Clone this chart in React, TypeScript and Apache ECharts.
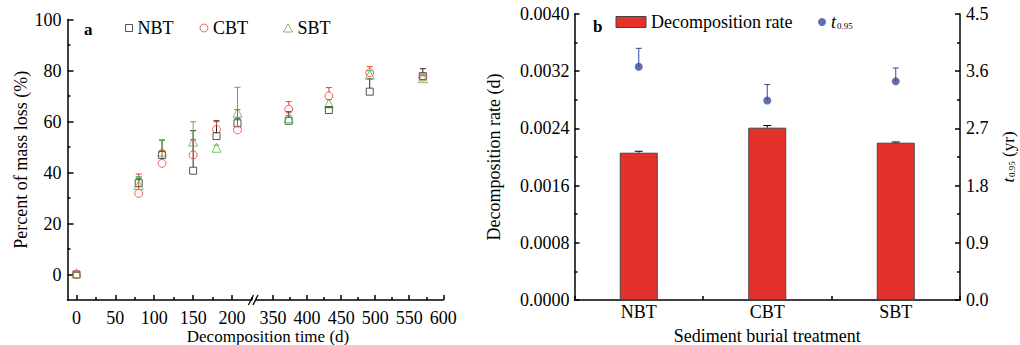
import React, { useEffect, useRef } from 'react';
import * as echarts from 'echarts';

const FONT = "'Liberation Serif', 'Times New Roman', serif";

// ---------- panel a data ----------
const daysEarly = [0, 80, 110, 150, 180, 207];
const daysLate = [373, 432, 492, 570];
const nbtMean = [0, 35.8, 46.9, 40.7, 54.3, 59.3, 60.3, 64.5, 71.7, 77.8];
const nbtErr = [0.8, 2.0, 5.8, 15.7, 6.0, 2.0, 3.5, 1.0, 5.0, 2.9];
const cbtMean = [0, 31.8, 43.6, 46.9, 56.9, 56.7, 64.8, 70.0, 79.1, 77.4];
const cbtErr = [0.8, 7.6, 5.0, 6.0, 3.0, 8.0, 3.0, 3.3, 2.4, 0.8];
const sbtMean = [0.5, 35.1, 48.2, 52.1, 49.7, 63.5, 61.3, 67.1, 78.4, 77.0];
const sbtErr = [0.5, 3.3, 4.5, 7.8, 1.0, 9.9, 1.0, 1.5, 1.5, 1.0];
const earlyLabels = [0, 50, 100, 150, 200];
const earlyMinor = [25, 75, 125, 175, 225];
const lateLabels = [350, 400, 450, 500, 550, 600];
const lateMinor = [375, 425, 475, 525, 575];
const massLabels = [0, 20, 40, 60, 80, 100];
const massMinor = [10, 30, 50, 70, 90];

// ---------- panel b data ----------
const treatments = ['NBT', 'CBT', 'SBT'];
const decompRate = [0.00206, 0.00241, 0.0022];
const decompRateErr = [0.00002, 0.00003, 0.00001];
const t95 = [3.67, 3.14, 3.44];
const t95Err = [0.29, 0.25, 0.21];

const C_NBT = '#2a2a2a';
const C_CBT = '#ee3a3a';
const C_SBT = '#5db446';
const C_BAR = '#e5312c';
const C_DOT = '#3a4a9a';

const axisLineStyle = { color: '#000', width: 1.5 };
const labelStyle = { fontFamily: FONT, fontSize: 18, color: '#000' };

function errRender(color: string, capW: number, startOffset: number) {
  return (params: any, api: any) => {
    const x = api.value(0);
    const y = api.value(1);
    const e = api.value(2);
    const p0 = api.coord([x, y]);
    const p1 = api.coord([x, y + e]);
    const y0 = Math.max(p0[1] - startOffset, p1[1]);
    return {
      type: 'group',
      children: [
        { type: 'line', shape: { x1: p0[0], y1: y0, x2: p1[0], y2: p1[1] }, style: { stroke: color, lineWidth: 1 } },
        { type: 'line', shape: { x1: p1[0] - capW / 2, y1: p1[1], x2: p1[0] + capW / 2, y2: p1[1] }, style: { stroke: color, lineWidth: 1 } },
      ],
    };
  };
}

function seriesFor(name: string, mean: number[], err: number[], color: string, symbol: string, size: number) {
  const n = daysEarly.length;
  const early = daysEarly.map((d, i) => [d, mean[i], err[i]]);
  const late = daysLate.map((d, i) => [d, mean[i + n], err[i + n]]);
  const out: any[] = [];
  [[early, 0, 0], [late, 2, 2]].forEach(([data, xi, yi]: any) => {
    out.push({
      type: 'custom', name: name + ' error', xAxisIndex: xi, yAxisIndex: yi,
      renderItem: errRender(color, 6, size / 2), data, encode: { x: 0, y: 1 }, z: 2, silent: true,
    });
    out.push({
      type: 'scatter', name, xAxisIndex: xi, yAxisIndex: yi, data: data.map((p: number[]) => [p[0], p[1]]),
      symbol, symbolSize: size,
      itemStyle: { color: 'rgba(0,0,0,0)', borderColor: color, borderWidth: 1 }, z: 3,
    });
  });
  return out;
}

const option: any = {
  animation: false,
  backgroundColor: '#fff',
  textStyle: { fontFamily: FONT },
  grid: [
    { left: 67.5, top: 19.5, width: 184, height: 280.5, outerBoundsMode: 'none', containLabel: false },
    { left: 256, top: 19.5, width: 187.3, height: 280.5, outerBoundsMode: 'none', containLabel: false },
    { left: 574.5, top: 14, width: 385.5, height: 286, outerBoundsMode: 'none', containLabel: false },
  ],
  legend: [
    { left: 125, top: 19, padding: 0, itemWidth: 7, itemHeight: 7, textStyle: labelStyle,
      data: [{ name: 'NBT', icon: 'rect', itemStyle: { color: 'rgba(0,0,0,0)', borderColor: C_NBT, borderWidth: 1 } }] },
    { left: 199.5, top: 19, padding: 0, itemWidth: 8, itemHeight: 8, textStyle: labelStyle,
      data: [{ name: 'CBT', icon: 'circle', itemStyle: { color: 'rgba(0,0,0,0)', borderColor: C_CBT, borderWidth: 1 } }] },
    { left: 283, top: 19, padding: 0, itemWidth: 9, itemHeight: 8, textStyle: labelStyle,
      data: [{ name: 'SBT', icon: 'triangle', itemStyle: { color: 'rgba(0,0,0,0)', borderColor: C_SBT, borderWidth: 1 } }] },
    { left: 615.5, top: 13, padding: 0, itemWidth: 30, itemHeight: 11, textStyle: labelStyle,
      data: [{ name: 'Decomposition rate', icon: 'rect', itemStyle: { color: C_BAR, borderColor: '#444', borderWidth: 1 } }] },
    { left: 818, top: 13, padding: 0, itemWidth: 8, itemHeight: 8,
      formatter: () => '{t|t}{s|0.95}',
      textStyle: { ...labelStyle, rich: { t: { fontFamily: FONT, fontSize: 18, fontStyle: 'italic', color: '#000' }, s: { fontFamily: FONT, fontSize: 9, color: '#000', padding: [8, 0, 0, 1] } } },
      data: [{ name: 't0.95', icon: 'circle', itemStyle: { color: C_DOT } }] },
  ],
  xAxis: [
    { gridIndex: 0, type: 'value', min: -11.5, max: 225, position: 'bottom',
      axisLine: { show: true, onZero: false, lineStyle: axisLineStyle },
      axisTick: { show: true, inside: true, length: 5, lineStyle: axisLineStyle, customValues: earlyLabels },
      axisLabel: { ...labelStyle, margin: 9, customValues: earlyLabels }, splitLine: { show: false } },
    { gridIndex: 0, type: 'value', min: -11.5, max: 225, position: 'bottom',
      axisLine: { show: false, onZero: false },
      axisTick: { show: true, inside: true, length: 3, lineStyle: axisLineStyle, customValues: earlyMinor },
      axisLabel: { show: false }, splitLine: { show: false } },
    { gridIndex: 1, type: 'value', min: 325, max: 600, position: 'bottom',
      axisLine: { show: true, onZero: false, lineStyle: axisLineStyle },
      axisTick: { show: true, inside: true, length: 5, lineStyle: axisLineStyle, customValues: lateLabels },
      axisLabel: { ...labelStyle, margin: 9, customValues: lateLabels }, splitLine: { show: false } },
    { gridIndex: 1, type: 'value', min: 325, max: 600, position: 'bottom',
      axisLine: { show: false, onZero: false },
      axisTick: { show: true, inside: true, length: 3, lineStyle: axisLineStyle, customValues: lateMinor },
      axisLabel: { show: false }, splitLine: { show: false } },
    { gridIndex: 2, type: 'category', data: treatments, position: 'bottom',
      axisLine: { show: true, onZero: false, lineStyle: axisLineStyle },
      axisTick: { show: true, inside: true, length: 4, lineStyle: axisLineStyle },
      axisLabel: { ...labelStyle, margin: 3 },
      name: 'Sediment burial treatment', nameLocation: 'middle', nameGap: 27,
      nameTextStyle: { ...labelStyle } },
  ],
  yAxis: [
    { gridIndex: 0, type: 'value', min: -10, max: 100, position: 'left',
      axisLine: { show: true, onZero: false, lineStyle: axisLineStyle },
      axisTick: { show: true, inside: true, length: 6, lineStyle: axisLineStyle, customValues: massLabels },
      axisLabel: { ...labelStyle, margin: 6, customValues: massLabels }, splitLine: { show: false },
      name: 'Percent of mass loss (%)', nameLocation: 'middle', nameGap: 38, nameRotate: 90,
      nameTextStyle: { ...labelStyle } },
    { gridIndex: 0, type: 'value', min: -10, max: 100, position: 'left',
      axisLine: { show: false, onZero: false },
      axisTick: { show: true, inside: true, length: 3, lineStyle: axisLineStyle, customValues: massMinor },
      axisLabel: { show: false }, splitLine: { show: false } },
    { gridIndex: 1, type: 'value', min: -10, max: 100, show: false },
    { gridIndex: 2, type: 'value', min: 0, max: 0.004, interval: 0.0008, position: 'left',
      axisLine: { show: true, onZero: false, lineStyle: axisLineStyle },
      axisTick: { show: true, inside: true, length: 5, lineStyle: axisLineStyle },
      minorTick: { show: true, splitNumber: 2, length: 3, lineStyle: axisLineStyle },
      axisLabel: { ...labelStyle, margin: 5, formatter: (v: number) => v.toFixed(4) },
      splitLine: { show: false }, minorSplitLine: { show: false },
      name: 'Decomposition rate (d)', nameLocation: 'middle', nameGap: 72, nameRotate: 90,
      nameTextStyle: { ...labelStyle } },
    { gridIndex: 2, type: 'value', min: 0, max: 4.5, interval: 0.9, position: 'right',
      axisLine: { show: true, onZero: false, lineStyle: axisLineStyle },
      axisTick: { show: true, inside: true, length: 5, lineStyle: axisLineStyle },
      minorTick: { show: true, splitNumber: 2, length: 3, lineStyle: axisLineStyle },
      axisLabel: { ...labelStyle, margin: 6, formatter: (v: number) => v.toFixed(1) },
      splitLine: { show: false }, minorSplitLine: { show: false },
      name: '{t|t}{s|0.95}{n| (yr)}', nameLocation: 'middle', nameGap: 40, nameRotate: 90,
      nameTextStyle: { ...labelStyle, fontSize: 17, rich: {
        t: { fontFamily: FONT, fontSize: 17, fontStyle: 'italic', color: '#000' },
        s: { fontFamily: FONT, fontSize: 9, color: '#000', padding: [7, 0, 0, 1] },
        n: { fontFamily: FONT, fontSize: 17, color: '#000' } } } },
  ],
  series: [
    ...seriesFor('NBT', nbtMean, nbtErr, C_NBT, 'rect', 7),
    ...seriesFor('CBT', cbtMean, cbtErr, C_CBT, 'circle', 8),
    ...seriesFor('SBT', sbtMean, sbtErr, C_SBT, 'triangle', 9),
    { type: 'bar', name: 'Decomposition rate', xAxisIndex: 4, yAxisIndex: 3, data: decompRate, barWidth: 38,
      itemStyle: { color: C_BAR, borderColor: '#444', borderWidth: 1 }, z: 2 },
    { type: 'custom', name: 'rate error', xAxisIndex: 4, yAxisIndex: 3,
      data: decompRate.map((v, i) => [i, v, decompRateErr[i]]), encode: { x: 0, y: 1 },
      renderItem: errRender('#000', 8, 0), z: 3, silent: true },
    { type: 'custom', name: 't error', xAxisIndex: 4, yAxisIndex: 4,
      data: t95.map((v, i) => [i, v, t95Err[i]]), encode: { x: 0, y: 1 },
      renderItem: errRender(C_DOT, 6, 0), z: 3, silent: true },
    { type: 'scatter', name: 't0.95', xAxisIndex: 4, yAxisIndex: 4, data: t95, symbol: 'circle', symbolSize: 8,
      itemStyle: { color: C_DOT }, z: 4 },
  ],
  graphic: [
    { type: 'text', left: 84, top: 21, style: { text: 'a', font: `bold 17px ${FONT}`, fill: '#000' } },
    { type: 'text', left: 593, top: 18, style: { text: 'b', font: `bold 17px ${FONT}`, fill: '#000' } },
    { type: 'text', x: 268, y: 336.5, style: { text: 'Decomposition time (d)', font: `17px ${FONT}`, fill: '#000', textAlign: 'center', textVerticalAlign: 'middle' } },
    { type: 'line', shape: { x1: 248.5, y1: 305, x2: 253.5, y2: 295 }, style: { stroke: '#000', lineWidth: 1.3 } },
    { type: 'line', shape: { x1: 253, y1: 305, x2: 258, y2: 295 }, style: { stroke: '#000', lineWidth: 1.3 } },
  ],
};

export default function App() {
  const ref = useRef<HTMLDivElement>(null);
  useEffect(() => {
    const chart = echarts.init(ref.current!, null, { renderer: 'svg' });
    chart.setOption(option);
    return () => chart.dispose();
  }, []);
  return (
    <div
      ref={ref}
      style={{ position: 'fixed', left: 0, top: 0, width: 1020, height: 345, background: '#fff' }}
    />
  );
}
